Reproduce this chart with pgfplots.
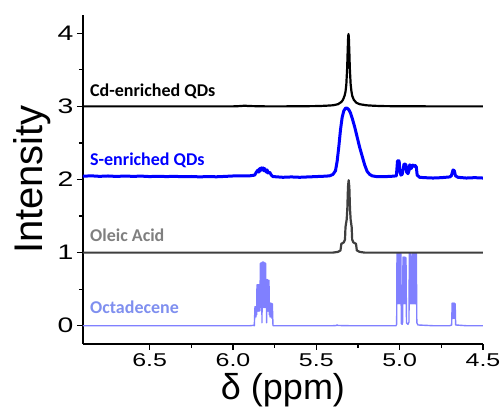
\documentclass[border=0pt]{standalone}
\usepackage{fontspec}
\setmainfont{Liberation Sans}
\newfontfamily\carlito{Carlito}
\usepackage{graphicx}
\usepackage{pgfplots}
\pgfplotsset{compat=1.18}
\definecolor{sblue}{HTML}{0000FF}
\definecolor{oleic}{HTML}{3F3F3F}
\definecolor{oleictext}{HTML}{7F7F7F}
\definecolor{ode}{HTML}{8080FF}
\definecolor{odetext}{HTML}{7F8FEF}
\newcommand\sx[1]{\scalebox{1.35}[1]{#1}}
\begin{document}
\begin{tikzpicture}
\useasboundingbox (-83pt,-70pt) rectangle (421pt,344pt);
\begin{axis}[
  at={(0pt,0pt)}, anchor=south west,
  scale only axis, width=400pt, height=329pt,
  x dir=reverse, xmin=4.5, xmax=6.9, ymin=-0.25, ymax=4.25,
  axis x line=bottom, axis y line=left,
  axis line style={-, line width=1.6pt},
  xtick={4.5,5,5.5,6,6.5},
  xticklabels={\sx{4.5},\sx{5.0},\sx{5.5},\sx{6.0},\sx{6.5}},
  ytick={0,1,2,3,4},
  yticklabels={\sx{0},\sx{1},\sx{2},\sx{3},\sx{4}},
  minor x tick num=1, minor y tick num=1,
  tick align=outside, major tick length=6pt, minor tick length=4pt,
  every tick/.style={black, line width=1.3pt},
  xticklabel style={font=\fontsize{18.5}{20}\selectfont},
  yticklabel style={font=\fontsize{21}{24}\selectfont},
  xlabel={δ (ppm)}, ylabel={Intensity},
  xlabel style={font=\fontsize{36}{40}\selectfont},
  ylabel style={font=\fontsize{40}{44}\selectfont},
  every axis plot/.append style={line join=round, line cap=round},
]
% Octadecene
\addplot[ode, line width=1.4pt] coordinates {
(6.90,0) (6.50,0) (6.10,0) (5.90,0) (5.875,0.005) (5.872,0.0)
(5.868,0.26) (5.866,0.12) (5.864,0.26) (5.862,0.12) (5.860,0.26) (5.858,0.15)
(5.856,0.56) (5.854,0.2) (5.852,0.56) (5.850,0.2) (5.848,0.56) (5.846,0.2) (5.844,0.56) (5.842,0.2) (5.840,0.56) (5.838,0.25)
(5.836,0.85) (5.834,0.25) (5.832,0.86) (5.830,0.2) (5.828,0.86) (5.826,0.04) (5.824,0.87) (5.822,0.25) (5.820,0.87) (5.818,0.25)
(5.816,0.87) (5.814,0.25) (5.812,0.86) (5.810,0.25) (5.808,0.86) (5.806,0.25) (5.804,0.85) (5.802,0.25)
(5.800,0.63) (5.798,0.04) (5.796,0.63) (5.794,0.2) (5.792,0.63) (5.790,0.2) (5.788,0.62) (5.786,0.2) (5.784,0.62) (5.782,0.15)
(5.780,0.31) (5.778,0.12) (5.776,0.31) (5.774,0.12) (5.772,0.31) (5.770,0.12) (5.768,0.30) (5.766,0.1) (5.764,0.30) (5.760,0.0)
(5.60,0) (5.40,0) (5.38,0.003) (5.376,0.012) (5.37,0.003) (5.30,0) (5.10,0) (5.022,0.0)
(5.018,0.02) (5.016,0.99) (5.013,0.3) (5.010,0.99) (5.007,0.3) (5.004,0.99) (5.001,0.3) (4.998,0.99) (4.995,0.3) (4.993,0.99) (4.990,0.03)
(4.985,0.02) (4.982,0.05) (4.980,0.94) (4.977,0.3) (4.974,0.94) (4.971,0.3) (4.968,0.94) (4.965,0.3) (4.962,0.93) (4.959,0.04)
(4.950,0.02) (4.944,0.05) (4.942,0.99) (4.939,0.3) (4.936,0.99) (4.933,0.3) (4.930,0.95) (4.927,0.3) (4.924,0.99) (4.921,0.3)
(4.918,0.99) (4.915,0.3) (4.912,0.99) (4.909,0.3) (4.906,0.99) (4.903,0.3) (4.900,0.99) (4.897,0.04) (4.89,0.01)
(4.80,0) (4.70,0) (4.688,0.01) (4.685,0.31) (4.682,0.1) (4.679,0.31) (4.676,0.1) (4.673,0.31) (4.670,0.1) (4.667,0.30) (4.664,0.01) (4.60,0) (4.50,0)
};
% Oleic acid
\addplot[oleic, line width=2.2pt] coordinates {
(6.90,1.0) (6.00,1.0) (5.60,1.0) (5.40,1.0) (5.37,1.01) (5.355,1.03) (5.350,1.12) (5.335,1.14) (5.328,1.18)
(5.325,1.35) (5.318,1.45) (5.314,1.6) (5.310,1.9) (5.306,1.99) (5.302,1.9) (5.298,1.6) (5.294,1.45) (5.288,1.35)
(5.285,1.18) (5.278,1.14) (5.262,1.12) (5.257,1.03) (5.24,1.01) (5.21,1.0) (5.00,1.0) (4.50,1.0)
};
% S-enriched QDs
\addplot[sblue, line width=3pt] coordinates {
(6.90,2.045) (6.85,2.050) (6.80,2.043) (6.75,2.048) (6.70,2.042) (6.65,2.047) (6.60,2.043) (6.55,2.046)
(6.50,2.040) (6.45,2.044) (6.40,2.040) (6.35,2.043) (6.30,2.038) (6.25,2.041) (6.20,2.036) (6.15,2.040)
(6.10,2.037) (6.05,2.042) (6.00,2.048) (5.95,2.05) (5.90,2.05) (5.87,2.06) (5.86,2.10) (5.85,2.13) (5.845,2.10)
(5.84,2.15) (5.835,2.12) (5.83,2.16) (5.825,2.13) (5.82,2.16) (5.815,2.12) (5.81,2.15) (5.80,2.10) (5.795,2.13)
(5.79,2.09) (5.78,2.10) (5.77,2.06) (5.76,2.04) (5.70,2.03) (5.65,2.035) (5.60,2.03) (5.55,2.035) (5.50,2.04)
(5.45,2.045) (5.42,2.05) (5.40,2.07) (5.385,2.12) (5.375,2.25) (5.365,2.45) (5.355,2.68) (5.345,2.85) (5.335,2.94)
(5.325,2.975) (5.315,2.975) (5.305,2.955) (5.295,2.91) (5.285,2.84) (5.27,2.72) (5.255,2.58) (5.24,2.44) (5.225,2.32)
(5.21,2.2) (5.195,2.11) (5.18,2.07) (5.165,2.05) (5.14,2.04) (5.08,2.04) (5.04,2.045) (5.02,2.05)
(5.018,2.1) (5.013,2.25) (5.008,2.26) (5.003,2.25) (4.998,2.1) (4.992,2.06) (4.985,2.07) (4.978,2.15) (4.974,2.21)
(4.968,2.21) (4.962,2.20) (4.958,2.10) (4.950,2.08) (4.944,2.12) (4.940,2.20) (4.935,2.19) (4.930,2.15) (4.925,2.19)
(4.918,2.20) (4.912,2.18) (4.906,2.19) (4.900,2.17) (4.895,2.06) (4.88,2.03) (4.85,2.025) (4.80,2.02) (4.75,2.025)
(4.70,2.035) (4.69,2.05) (4.68,2.13) (4.672,2.12) (4.665,2.05) (4.65,2.03) (4.60,2.02) (4.55,2.025) (4.50,2.02)
};
% Cd-enriched QDs
\addplot[black, line width=2.2pt] coordinates {
(6.90,3.0) (6.00,3.0) (5.95,3.005) (5.93,3.01) (5.91,3.005) (5.80,3.0) (5.70,3.0) (5.60,3.002) (5.50,3.004)
(5.45,3.008) (5.40,3.015) (5.37,3.03) (5.35,3.06) (5.34,3.09) (5.33,3.15) (5.325,3.2) (5.32,3.3) (5.315,3.52)
(5.312,3.75) (5.309,3.95) (5.307,3.99) (5.305,3.95) (5.302,3.75) (5.299,3.52) (5.294,3.3) (5.289,3.2) (5.284,3.14)
(5.275,3.09) (5.26,3.05) (5.24,3.03) (5.20,3.015) (5.15,3.008) (5.10,3.004) (5.00,3.002) (4.80,3.0) (4.50,3.0)
};
\node[anchor=base west, font=\carlito\bfseries\fontsize{18}{20}\selectfont, text=black, inner sep=0pt] at (axis cs:6.858,3.14) {Cd-enriched QDs};
\node[anchor=base west, font=\carlito\bfseries\fontsize{18}{20}\selectfont, text=sblue, inner sep=0pt] at (axis cs:6.858,2.19) {S-enriched QDs};
\node[anchor=base west, font=\carlito\bfseries\fontsize{18}{20}\selectfont, text=oleictext, inner sep=0pt] at (axis cs:6.858,1.155) {Oleic Acid};
\node[anchor=base west, font=\carlito\bfseries\fontsize{18}{20}\selectfont, text=odetext, inner sep=0pt] at (axis cs:6.858,0.17) {Octadecene};
\end{axis}
\end{tikzpicture}
\end{document}
